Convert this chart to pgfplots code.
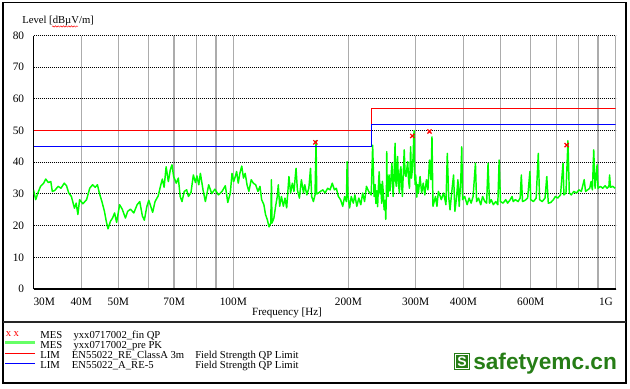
\documentclass[border=0pt]{standalone}
\usepackage{fontspec}
\setmainfont{Liberation Serif}
\newfontfamily\logofont{Liberation Sans}
\usepackage{pgfplots}
\pgfplotsset{compat=1.18}
\usetikzlibrary{decorations.pathmorphing}
\definecolor{trace}{RGB}{0,255,0}
\definecolor{limred}{RGB}{255,0,0}
\definecolor{limblue}{RGB}{0,0,255}
\definecolor{logogreen}{RGB}{38,125,22}
\definecolor{gridgray}{RGB}{172,172,172}
\begin{document}
\begin{tikzpicture}
\useasboundingbox (0,0) rectangle (472.5pt,291pt);
\begin{axis}[
  at={(25.125pt,74.25pt)}, anchor=south west,
  scale only axis, width=436.5pt, height=190.1pt,
  xmode=log, xmin=30, xmax=1000, ymin=0, ymax=80,
  xtick={30,40,50,60,70,80,90,100,200,300,400,500,600,700,800,900,1000},
  xticklabels={\rlap{30M},40M,50M,,70M,,,100M,200M,300M,400M,,600M,,,,\llap{1G\kern2pt}},
  ytick={0,10,...,80},
  major tick length=0pt, minor tick length=0pt,
  xmajorgrids, ymajorgrids,
  x grid style={gridgray, line width=1pt},
  y grid style={black, line width=0.7pt, dash pattern=on 0.7pt off 0.8pt},
  axis x line*=bottom, axis y line*=left,
  axis line style={-, black, line width=1pt},
  tick label style={font=\fontsize{8.5}{10}\selectfont},
  xticklabel style={yshift=-3pt},
  yticklabel style={xshift=-3.5pt},
  /pgf/number format/assume math mode=true,
]
\addplot[trace, line width=1.1pt, line join=round] coordinates {
(30.0,31.3)(30.4,28.2)(30.8,30.3)(31.3,32.4)(31.9,33.4)(32.3,34.7)(32.8,33.6)(33.3,33.9)(33.6,30.8)(34.1,31.1)
(34.8,32.4)(35.4,31.8)(36.1,33.4)(36.6,32.6)(37.1,30.3)(37.7,29.2)(38.4,25.5)(38.8,27.1)(39.2,23.5)(39.6,28.2)
(40.4,26.9)(41.3,28.2)(42.1,31.8)(42.8,32.9)(43.5,32.1)(44.1,32.9)(44.6,30.3)(45.3,27.6)(46.0,24.5)(46.5,21.4)
(47.0,19.0)(47.7,21.4)(48.3,22.4)(48.9,24.0)(49.5,21.0)(50.4,26.6)(51.2,25.2)(52.2,22.4)(52.9,24.5)(53.8,25.2)
(54.9,24.0)(56.0,26.6)(56.9,27.6)(57.8,23.1)(58.5,21.7)(59.4,26.1)(60.1,28.0)(61.5,24.2)(62.4,27.6)(63.6,29.4)
(64.6,32.9)(65.2,34.7)(65.9,32.1)(66.7,38.6)(67.6,33.9)(68.4,37.6)(69.1,39.2)(69.8,35.5)(70.9,33.4)(71.8,35.0)
(72.6,29.2)(73.4,27.6)(74.4,30.8)(75.5,31.3)(76.3,29.2)(77.5,30.5)(78.6,36.0)(79.6,33.6)(80.3,35.7)(81.2,32.9)
(82.0,36.5)(83.3,31.3)(84.5,27.6)(86.2,32.9)(87.8,30.1)(89.5,31.5)(91.4,29.7)(93.4,30.8)(95.3,32.6)(96.7,27.3)
(98.2,30.3)(99.2,36.5)(100.2,33.9)(101.2,35.5)(102.0,37.1)(103.0,33.4)(104.0,36.5)(105.2,38.8)(106.3,35.0)(107.4,36.5)
(108.6,32.9)(109.8,30.8)(111.4,34.5)(112.8,33.4)(114.4,32.9)(116.0,30.8)(117.4,32.4)(118.6,28.2)(120.2,26.6)(121.4,23.5)
(122.7,21.9)(124.0,19.6)(125.3,20.8)(125.8,34.5)(126.2,20.8)(127.7,22.4)(129.0,26.1)(130.3,29.2)(131.1,32.9)(132.2,26.1)
(133.6,29.2)(135.2,26.1)(136.5,28.7)(137.9,25.6)(139.8,35.5)(141.2,30.3)(142.7,33.4)(144.1,30.8)(145.9,38.1)(147.1,31.3)
(148.9,28.7)(150.7,34.5)(152.6,30.3)(153.8,32.9)(155.7,29.7)(157.6,31.8)(159.2,38.1)(160.3,29.2)(162.0,27.6)(163.6,29.7)
(164.6,46.8)(165.3,30.0)(167.0,30.3)(169.0,30.8)(171.5,31.3)(173.8,30.3)(176.5,31.8)(179.1,31.3)(181.5,33.4)(183.9,31.3)
(186.0,31.8)(188.3,29.2)(190.8,28.2)(193.3,26.1)(195.6,29.2)(197.7,27.6)(198.5,40.2)(199.6,29.2)(201.5,25.6)(203.5,29.2)
(206.0,27.1)(208.0,29.7)(210.4,26.1)(213.0,28.7)(215.5,26.6)(218.0,30.3)(220.5,27.6)(223.0,32.4)(226.0,30.8)(229.5,29.7)
(231.5,45.4)(233.5,29.2)(235,33)(236,27)(237.5,31)(238.5,26)(240,34)(240.8,37)(242,30)(243,33)(244.5,27)(245.5,34)
(247,30)(248,25)(249.5,28)(250.5,22)(251.5,30)(252,43.4)(252.7,31)(254,29.2)(255.5,36)(257,31)(258.5,35)(260,39.7)
(261,33)(262,29.2)(263.5,37)(265,46.0)(266,34)(267,32.4)(268,38)(269,41.8)(270.5,33)(272,30.3)(273,37)(274.5,38.6)
(275.5,33)(277,29.2)(278.5,37)(280,43.9)(281.5,36)(283,35.5)(284.5,38)(286,40.2)(287.5,34)(289,31.8)(290,38)(291,44.9)
(292.5,35)(294,37.6)(295.5,42)(296.5,48.1)(297.3,50.0)(298,38)(299,33)(300,36)(302,29)(303.5,33)(305,30.3)
(308.0,35.5)(311.0,30.3)(314.0,33.4)(317.0,29.7)(320.0,34.5)(323.0,31.3)(326.0,40.7)(329.0,34.5)(331.0,48.0)(333.0,26.1)
(338.0,29.2)(341.0,26.1)(344.0,30.8)(348.0,29.2)(350,28.2)(355,30.3)(360,26.6)(363,42.8)(366,29.2)(369,25.0)
(373,30.8)(377,36.0)(380,24.5)(384,29.2)(387,34.5)(390,26.1)(394,35.5)(396,44.9)(398,28.2)(403,29.2)
(409,26.6)(414,28.7)(419,27.1)(424,29.2)(430,39.7)(433,27.6)(438,28.7)(444,26.6)(449,29.2)(455,27.6)
(460,27.1)(464,39.7)(468,27.1)(473,28.2)(479,26.6)(486,27.6)(492,26.6)(496,40.7)(500,27.6)(508,27.1)
(516,28.2)(522,27.1)(529,28.0)(536,29.2)(540,27.6)(547,28.2)(556,27.6)(563,28.7)(567,36.0)(571,27.6)
(580,28.0)(589,28.7)(597,37.1)(600,28.2)(610,27.6)(620,28.7)(628,42.8)(633,28.2)(643,27.6)(654,28.7)
(661,35.5)(667,27.1)(677,27.3)(688,28.2)(696,29.2)(706,28.7)(718,29.7)(729,39.7)(733,29.7)(742,30.3)
(751,46.8)(757,30.3)(766,29.7)(778,30.8)(791,30.3)(802,31.3)(814,30.8)(828,34.5)(835,30.8)(846,31.3)
(856,31.8)(863,33.9)(870,31.3)(877,43.9)(884,31.8)(895,39.2)(900,31.8)(913,32.4)(926,31.8)(939,32.6)
(950,31.8)(961,32.4)(965,36.0)(970,32.1)(983,32.4)(998,31.8)
};
\addplot[limred, line width=1.1pt] coordinates {(30,50)(230,50)(230,57)(1000,57)};
\addplot[limblue, line width=1.1pt] coordinates {(30,45)(230,45)(230,52)(1000,52)};
\addplot[only marks, mark=x, mark size=2.2pt, red, mark options={line width=0.9pt}] coordinates {
(164,46.3)(294,48.3)(326,49.7)(745,45.4)
};
\end{axis}
\begin{scope}[x=0.75pt,y=0.75pt]
\draw[black, line width=1.2pt] (2.7,5) rectangle (626,385.3);
\draw[black!85, line width=1.1pt] (2.7,66) -- (626,66);
\node[anchor=west, inner sep=0pt, font=\fontsize{8}{9}\selectfont] at (22,367) {Level [dBµV/m]};
\draw[red, line width=0.35pt, decorate, decoration={snake, amplitude=0.5pt, segment length=2pt}] (52,361.5) -- (78,361.5);
\node[font=\fontsize{8.3}{10}\selectfont] at (287,75) {Frequency [Hz]};
% legend
\node[anchor=base west, inner sep=0pt, text=red, font=\fontsize{8}{9}\selectfont] at (5.5,51) {x};
\node[anchor=base west, inner sep=0pt, text=red, font=\fontsize{8}{9}\selectfont] at (13.3,51) {x};
\draw[trace!60!white, line width=1.8pt] (5,45.3) -- (35,45.3);
\draw[limred, line width=0.8pt] (5,34.7) -- (35,34.7);
\draw[limblue, line width=0.8pt] (5,24.7) -- (35,24.7);
\begin{scope}[every node/.style={anchor=base west, inner sep=0pt, font=\fontsize{8}{9}\selectfont}]
\node at (40,49) {MES}; \node at (73.3,49) {yxx0717002\_fin QP};
\node at (40,39.3) {MES}; \node at (73.3,39.3) {yxx0717002\_pre PK};
\node at (40,29.3) {LIM}; \node at (71.7,29.3) {EN55022\_RE\_ClassA 3m}; \node at (195,29.3) {Field Strength QP Limit};
\node at (40,19.3) {LIM}; \node at (71.7,19.3) {EN55022\_A\_RE-5}; \node at (195,19.3) {Field Strength QP Limit};
\end{scope}
% logo
\fill[logogreen] (454,18) rectangle (470,35);
\draw[white, line width=0.5pt] (455.6,19.6) rectangle (468.4,33.4);
\node[text=white, inner sep=0pt, font=\logofont\bfseries\fontsize{10.5}{11}\selectfont] at (462,26.5) {S};
\node[anchor=base west, inner sep=0pt, text=logogreen, font=\logofont\bfseries\fontsize{17}{18}\selectfont] at (473,18) {safetyemc.cn};
\end{scope}
\end{tikzpicture}
\end{document}
